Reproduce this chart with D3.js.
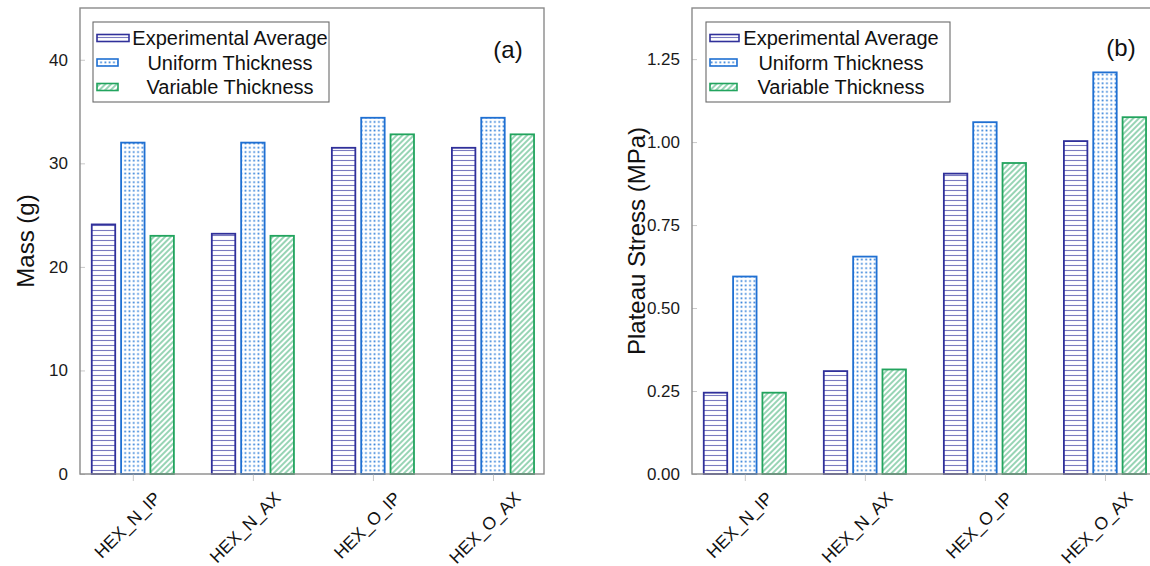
<!DOCTYPE html>
<html>
<head>
<meta charset="utf-8">
<script src="https://cdn.jsdelivr.net/npm/d3@7"></script>
<style>
  html, body { margin: 0; padding: 0; background: #fff; }
  svg { display: block; }
</style>
</head>
<body>
<svg id="chart" width="1150" height="566"></svg>
<script>
// ---------- data ----------
const categories = ["HEX_N_IP", "HEX_N_AX", "HEX_O_IP", "HEX_O_AX"];
const seriesNames = ["Experimental Average", "Uniform Thickness", "Variable Thickness"];

const massExperimental = [24.1, 23.2, 31.5, 31.5];
const massUniform      = [32.0, 32.0, 34.4, 34.4];
const massVariable     = [23.0, 23.0, 32.8, 32.8];

const stressExperimental = [0.245, 0.31, 0.905, 1.003];
const stressUniform      = [0.595, 0.655, 1.06, 1.21];
const stressVariable     = [0.245, 0.315, 0.937, 1.075];

const massTicks = [0, 10, 20, 30, 40];
const stressTicks = [0, 0.25, 0.5, 0.75, 1.0, 1.25];

// ---------- styling ----------
const colors = {
  "Experimental Average": "#30309a",
  "Uniform Thickness": "#2070d2",
  "Variable Thickness": "#22a45e"
};
const patternIds = {
  "Experimental Average": "pat-h",
  "Uniform Thickness": "pat-dots",
  "Variable Thickness": "pat-ne"
};

const svg = d3.select("#chart");
const defs = svg.append("defs");

// horizontal lines
const ph = defs.append("pattern").attr("id", "pat-h").attr("patternUnits", "userSpaceOnUse")
  .attr("width", 8).attr("height", 5);
ph.append("line").attr("x1", 0).attr("x2", 8).attr("y1", 2.5).attr("y2", 2.5)
  .attr("stroke", "#7a7ac0").attr("stroke-width", 1.1);

// dots
const pd = defs.append("pattern").attr("id", "pat-dots").attr("patternUnits", "userSpaceOnUse")
  .attr("width", 4.3).attr("height", 4.3);
pd.append("rect").attr("x", 1.3).attr("y", 1.3).attr("width", 1.7).attr("height", 1.7)
  .attr("fill", "#2f7ed8");

// north-east lines
const pn = defs.append("pattern").attr("id", "pat-ne").attr("patternUnits", "userSpaceOnUse")
  .attr("width", 4).attr("height", 4).attr("patternTransform", "rotate(45)");
pn.append("line").attr("x1", 2).attr("x2", 2).attr("y1", 0).attr("y2", 4)
  .attr("stroke", "#52b883").attr("stroke-width", 1.2);

const fontTick = "'Liberation Sans', Arial, sans-serif";

function panel(opts) {
  const { left, top, width, height, yMax, ticks, fmt, ylabel, ylabelX, tag, tagX, tagY, data, legend } = opts;
  const g = svg.append("g").attr("transform", `translate(${left},${top})`);

  const x = d3.scaleLinear().domain([-0.44, 3.425]).range([0, width]);
  const xb = d3.scaleBand().domain(seriesNames).range([-44, 44]).paddingInner(0.2).paddingOuter(0.1);
  const y = d3.scaleLinear().domain([0, yMax]).range([height, 0]);

  // bars
  seriesNames.forEach((s, si) => {
    g.append("g").selectAll("rect").data(data[si]).join("rect")
      .attr("x", (d, i) => x(i) + xb(s))
      .attr("y", d => y(d))
      .attr("width", xb.bandwidth())
      .attr("height", d => y(0) - y(d))
      .attr("fill", `url(#${patternIds[s]})`)
      .attr("stroke", colors[s])
      .attr("stroke-width", 1.8);
  });

  // y axis
  const ya = g.append("g").call(d3.axisLeft(y).tickValues(ticks).tickFormat(fmt).tickSize(-5).tickPadding(12));
  ya.select(".domain").remove();
  ya.selectAll(".tick line").attr("stroke", "#c8c8c8").attr("stroke-width", 1);
  ya.selectAll(".tick text").attr("font-family", fontTick).attr("font-size", 17).attr("fill", "#1a1a1a");

  // x axis
  const xa = g.append("g").attr("transform", `translate(0,${height})`)
    .call(d3.axisBottom(x).tickValues(d3.range(categories.length)).tickFormat(i => categories[i]).tickSize(7));
  xa.select(".domain").remove();
  xa.selectAll(".tick line").attr("stroke", "#c8c8c8").attr("stroke-width", 1);
  xa.selectAll(".tick text")
    .attr("font-family", fontTick).attr("font-size", 17.5).attr("fill", "#111")
    .attr("text-anchor", "end").attr("dy", "0.35em")
    .attr("transform", "translate(24,21) rotate(-45)")
    .attr("y", 0);

  // frame
  g.append("rect").attr("x", 0).attr("y", 0).attr("width", width).attr("height", height)
    .attr("fill", "none").attr("stroke", "#8a8a8a").attr("stroke-width", 1.4);

  // y label
  svg.append("text")
    .attr("transform", `translate(${ylabelX},${top + height / 2}) rotate(-90)`)
    .attr("text-anchor", "middle").attr("dominant-baseline", "central")
    .attr("font-family", fontTick).attr("font-size", 24).attr("fill", "#111")
    .text(ylabel);

  // tag
  svg.append("text").attr("x", tagX).attr("y", tagY)
    .attr("text-anchor", "middle").attr("dominant-baseline", "central")
    .attr("font-family", fontTick).attr("font-size", 24).attr("fill", "#111")
    .text(tag);

  // legend
  const lg = svg.append("g");
  lg.append("rect").attr("x", legend.x).attr("y", legend.y).attr("width", legend.w).attr("height", legend.h)
    .attr("fill", "#fff").attr("stroke", "#6a6a6a").attr("stroke-width", 1.1);
  const rows = [38, 62.5, 87];
  seriesNames.forEach((s, i) => {
    lg.append("rect").attr("x", legend.x + 4).attr("y", rows[i] - 3.5)
      .attr("width", legend.sw[i]).attr("height", 7)
      .attr("fill", `url(#${patternIds[s]})`).attr("stroke", colors[s]).attr("stroke-width", 1.6);
    lg.append("text").attr("x", legend.tx).attr("y", rows[i])
      .attr("text-anchor", "middle").attr("dominant-baseline", "central")
      .attr("font-family", fontTick).attr("font-size", 20).attr("fill", "#111")
      .text(s);
  });
}

panel({
  left: 80, top: 8, width: 464, height: 466, yMax: 45,
  ticks: massTicks, fmt: d3.format("d"),
  ylabel: "Mass (g)", ylabelX: 25,
  tag: "(a)", tagX: 508, tagY: 49,
  data: [massExperimental, massUniform, massVariable],
  legend: { x: 93, y: 22, w: 236, h: 80, sw: [32, 21, 21], tx: 230 }
});

panel({
  left: 692, top: 8, width: 464, height: 466, yMax: 1.404,
  ticks: stressTicks, fmt: d3.format(".2f"),
  ylabel: "Plateau Stress (MPa)", ylabelX: 636,
  tag: "(b)", tagX: 1121, tagY: 47,
  data: [stressExperimental, stressUniform, stressVariable],
  legend: { x: 706, y: 22, w: 244, h: 80, sw: [29, 27, 27], tx: 841 }
});
</script>
</body>
</html>
